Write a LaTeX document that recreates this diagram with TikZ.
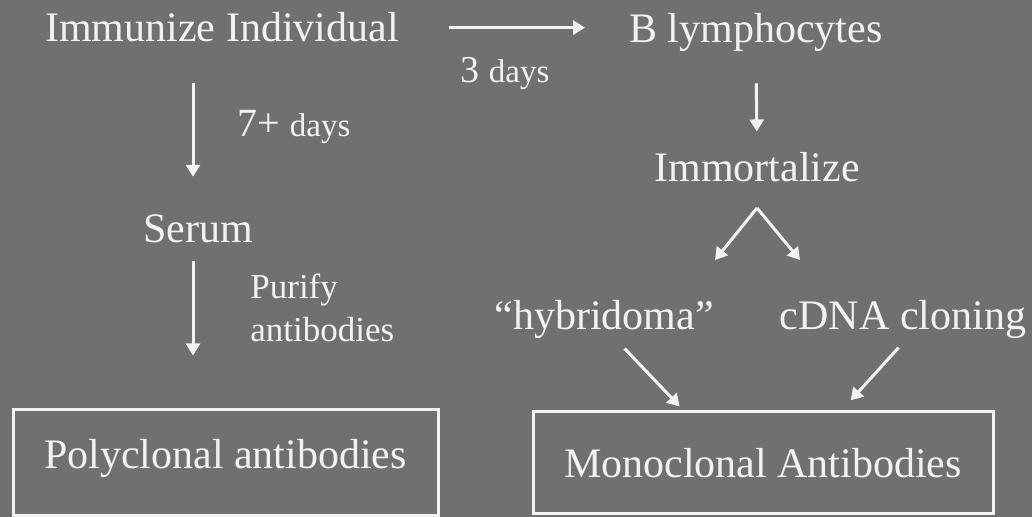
\documentclass[tikz,border=0pt]{standalone}
\usepackage{fontspec}
\setmainfont{Liberation Serif}
\usetikzlibrary{arrows.meta, positioning}
\definecolor{slidebg}{RGB}{112,112,112}
\definecolor{slideink}{RGB}{242,242,242}

\begin{document}
\begin{tikzpicture}[
    x=0.5pt, y=-0.5pt,
    txt/.style={inner sep=0pt, anchor=base, text=slideink, font=\fontsize{21}{25}\selectfont},
    small/.style={inner sep=0pt, anchor=base west, text=slideink},
    panel/.style={rectangle, draw=slideink, line width=1.5pt, inner sep=0pt, text=slideink, font=\fontsize{21}{25}\selectfont, text depth=4.5pt},
    arrow/.style={-{Triangle[length=6pt, width=7pt]}, line width=1.5pt, color=slideink}
]
% background
\fill[slidebg] (0,0) rectangle (1032,517);
\useasboundingbox (0,0) rectangle (1032,517);

% left column
\node[txt] (immunize) at (222,42) {Immunize Individual};
\node[txt] (serum) at (198,243) {Serum};
\node[panel, minimum width=212.5pt, minimum height=52.5pt, text height=10pt] (poly) at (225.5,462.5) {Polyclonal antibodies};

% right column
\node[txt] (blymph) at (756,43) {B lymphocytes};
\node[txt] (immort) at (757,182) {Immortalize};
\node[txt] (hybrid) at (604,330) {“hybridoma”};
\node[txt] (cdna) at (903,330) {cDNA cloning};
\node[panel, minimum width=230pt, minimum height=50.5pt, text height=19.9pt] (mono) at (763,462.5) {Monoclonal Antibodies};

% arrow labels
\node[small] (days3) at (460,83) {\fontsize{19}{23}\selectfont 3 \fontsize{16.5}{19}\selectfont days};
\node[small] (days7) at (237,137) {\fontsize{20}{24}\selectfont 7+ \fontsize{16.5}{19}\selectfont days};
\node[small, anchor=north west, align=left, font=\fontsize{17.5}{21.5}\selectfont] (purify) at (250,273) {Purify\\antibodies};

% fork below Immortalize
\coordinate (fork) at (757,208);
\coordinate (forkl) at (715,260);
\coordinate (forkr) at (800,260);

\draw[arrow, shorten <=24.75pt, shorten >=22pt] (immunize.east) -- (immunize.east -| blymph.west);
\draw[arrow, shorten <=20pt, shorten >=19pt] ([xshift=-2.5pt]serum |- immunize.south) -- ([xshift=-2.5pt]serum.north);
\draw[arrow, shorten <=8.5pt, shorten >=26.5pt] ([xshift=-2.5pt]serum.south) -- ([xshift=-2.5pt]serum.south |- poly.north);
\draw[arrow, shorten <=15.5pt, shorten >=10.5pt] (blymph.south) -- (immort.north);
\draw[arrow] (fork) -- (forkl);
\draw[arrow] (fork) -- (forkr);
\draw[arrow, shorten <=6.2pt, shorten >=2.8pt] ([xshift=6pt]hybrid.south) -- ([xshift=76pt]mono.north west);
\draw[arrow, shorten <=5.5pt, shorten >=6.8pt] ([xshift=1.5pt]cdna.south) -- ([xshift=-76.5pt]mono.north east);
\end{tikzpicture}
\end{document}
